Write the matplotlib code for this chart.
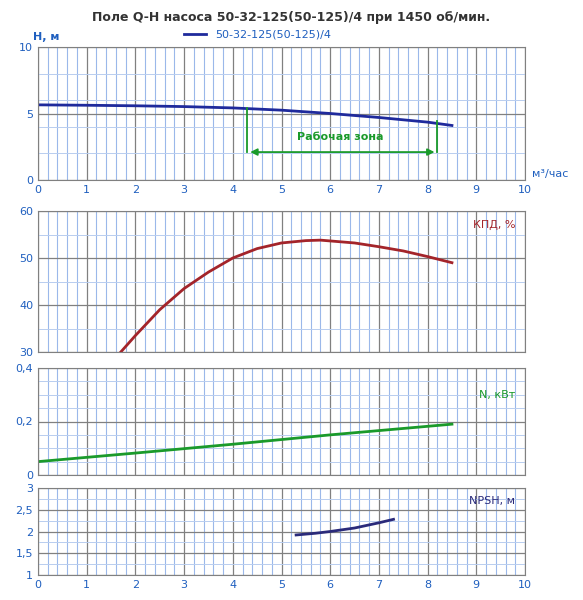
import matplotlib
matplotlib.use("Agg")
import matplotlib.pyplot as plt
import numpy as np

q_h = [0, 1, 2, 3, 4, 5, 6, 7, 8, 8.5]
h = [5.65, 5.62, 5.58, 5.52, 5.42, 5.25, 5.0, 4.7, 4.35, 4.1]
q_eff = [1.7, 2.0, 2.5, 3.0, 3.5, 4.0, 4.5, 5.0, 5.5, 5.8, 6.5, 7.0, 7.5, 8.0, 8.5]
eff = [30, 33.5, 39, 43.5, 47, 50, 52, 53.2, 53.7, 53.8, 53.2, 52.4, 51.5, 50.3, 49]
q_n = [0, 2, 4, 6, 8.5]
n = [0.05, 0.082, 0.115, 0.15, 0.19]
q_npsh = [5.3, 5.7, 6.0, 6.5, 7.0, 7.3]
npsh = [1.92, 1.96, 2.0, 2.08, 2.2, 2.28]
title = "Поле Q-H насоса 50-32-125(50-125)/4 при 1450 об/мин."
label = "50-32-125(50-125)/4"

fig = plt.figure(figsize=(5.83, 6.0), dpi=100)
W, H = 583, 600
def ax_at(t, b):
    return fig.add_axes([38/W, 1-b/H, (525-38)/W, (b-t)/H])

blue = "#1f5fbf"
def grid(ax, ymaj, ymin, xlabels):
    ax.set_xlim(0, 10)
    ax.set_xticks(np.arange(0, 11, 1))
    ax.set_xticks(np.arange(0, 10.01, 0.2), minor=True)
    ax.set_yticks(ymaj)
    ax.set_yticks(ymin, minor=True)
    ax.grid(which="minor", axis="x", color="#9bb8ea", lw=0.8)
    ax.grid(which="minor", axis="y", color="#b8cdef", lw=0.7)
    ax.grid(which="major", color="#808080", lw=0.9)
    ax.tick_params(which="both", length=0, labelsize=8, labelcolor=blue)
    if xlabels:
        ax.set_xticklabels([str(i) for i in range(11)])
    else:
        ax.set_xticklabels([])
    for s in ax.spines.values():
        s.set_color("#808080")
    ax.set_axisbelow(True)

a1 = ax_at(47, 180)
grid(a1, [0, 5, 10], [2, 4, 6, 8], True)
a1.set_ylim(0, 10)
a1.plot(q_h, h, color="#1f2a9c", lw=2, label=label)
a1.annotate("", xy=(4.3, 2.1), xytext=(8.2, 2.1),
            arrowprops=dict(arrowstyle="<|-|>", color="#1a9a2a", lw=1.3))
a1.plot([4.3, 4.3], [2.1, 5.4], color="#1a9a2a", lw=1.3)
a1.plot([8.2, 8.2], [2.1, 4.4], color="#1a9a2a", lw=1.3)
a1.text(6.2, 3.0, "Рабочая зона", color="#1a9a2a", fontsize=8, fontweight="bold", ha="center")
a1.legend(loc="lower center", bbox_to_anchor=(0.45, 0.98), frameon=False, fontsize=8,
          handlelength=2, labelcolor=blue)
a1.text(-0.1, 10.5, "Н, м", color=blue, fontsize=8, fontweight="bold")
a1.text(10.9, 0.1, "м³/час", color=blue, fontsize=8, ha="right", va="bottom")
fig.text(0.5, 1-18/H, title, ha="center", va="center", fontsize=9, fontweight="bold", color="#333333")

a2 = ax_at(211, 352)
grid(a2, [30, 40, 50, 60], [35, 45, 55], False)
a2.set_ylim(30, 60)
a2.plot(q_eff, eff, color="#a3242a", lw=2)
a2.text(9.8, 57, "КПД, %", color="#a3242a", fontsize=8, ha="right", va="center")

a3 = ax_at(368, 475)
grid(a3, [0, 0.2, 0.4], [0.05, 0.1, 0.15, 0.25, 0.3, 0.35], False)
a3.set_ylim(0, 0.4)
a3.set_yticklabels(["0", "0,2", "0,4"])
a3.plot(q_n, n, color="#1a9a2a", lw=2)
a3.text(9.8, 0.3, "N, кВт", color="#1a9a2a", fontsize=8, ha="right", va="center")

a4 = ax_at(488, 575)
grid(a4, [1, 1.5, 2, 2.5, 3], [1.25, 1.75, 2.25, 2.75], True)
a4.set_ylim(1, 3)
a4.set_yticklabels(["1", "1,5", "2", "2,5", "3"])
a4.plot(q_npsh, npsh, color="#2a2a7a", lw=2)
a4.text(9.8, 2.7, "NPSH, м", color="#2a2a7a", fontsize=8, ha="right", va="center")

fig.savefig("out.png", dpi=100)
